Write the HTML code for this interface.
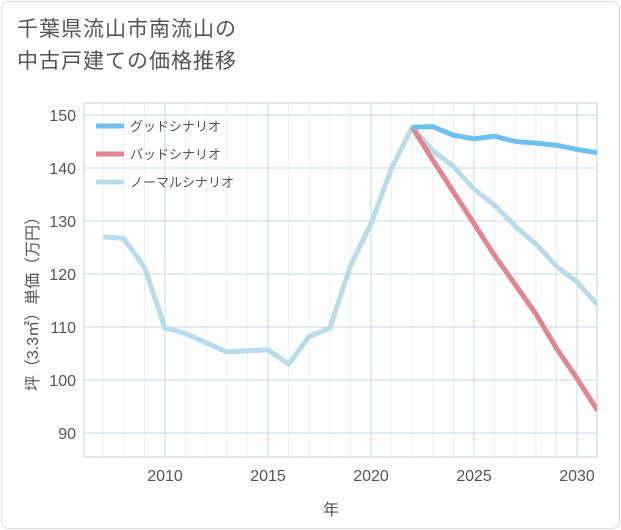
<!DOCTYPE html>
<html><head><meta charset="utf-8"><style>
body{margin:0;background:#fff;font-family:"Liberation Sans","Noto Sans CJK JP",sans-serif;}
#wrap{position:relative;width:621px;height:530px;}
#frame{position:absolute;left:1px;top:1px;width:617px;height:526px;border:1px solid #ddd;border-radius:8px;}
#title{position:absolute;left:17px;top:14px;font-size:21px;line-height:32px;color:#555;letter-spacing:1px;}
svg{position:absolute;left:0;top:0;}
</style></head><body>
<div id="wrap">
<div id="frame"></div>
<div id="title">千葉県流山市南流山の<br>中古戸建ての価格推移</div>
<svg id="chart" width="621" height="530"></svg>
</div>
<script>
const years=[2007,2008,2009,2010,2011,2012,2013,2014,2015,2016,2017,2018,2019,2020,2021,2022,2023,2024,2025,2026,2027,2028,2029,2030,2031];
const normalVals=[127,126.7,121.3,109.8,108.8,107,105.3,105.5,105.7,103,108.2,109.8,121.5,129.5,140,147.7,143.3,140.3,136,133,129,125.7,121.5,118.5,114.2];
const goodYears=[2022,2023,2024,2025,2026,2027,2028,2029,2030,2031];
const goodVals=[147.7,147.8,146.2,145.5,146,145,144.7,144.3,143.5,142.9];
const badVals=[147.7,141.5,135.5,129.5,123.5,118,112.5,106,100.3,94.2];
const xTicks=[2010,2015,2020,2025,2030];
const yTicks=[90,100,110,120,130,140,150];
const legendLabels=["グッドシナリオ","バッドシナリオ","ノーマルシナリオ"];
const legendColors=["#6ec0f0","#e0868f","#b9dcea"];

const L=84,R=597,T=103,B=457;
const x=v=>165+(v-2010)*20.6;
const y=v=>115+(150-v)*5.3;
const svg=document.getElementById('chart');
const NS='http://www.w3.org/2000/svg';
function mk(tag,attrs,parent){const e=document.createElementNS(NS,tag);for(const k in attrs)e.setAttribute(k,attrs[k]);(parent||svg).appendChild(e);return e;}

const plot=mk('rect',{x:L,y:T,width:R-L,height:B-T,fill:'none',stroke:'#ccc'});


for(let yr=2007;yr<=2031;yr++){
  const g=mk('line',{x1:x(yr),x2:x(yr),y1:T,y2:B,stroke:xTicks.includes(yr)?'#c9d9e6':'#e8eff5','stroke-width':1});
  
  
}
yTicks.forEach(v=>{
  const g=mk('line',{x1:L,x2:R,y1:y(v),y2:y(v),stroke:'#c9d9e6'});
  
  
  const t=mk('text',{x:76,y:y(v)+6,'text-anchor':'end','font-size':16,fill:'#555'});
  t.textContent=v;
  
  
});
xTicks.forEach(v=>{
  const t=mk('text',{x:x(v),y:481,'text-anchor':'middle','font-size':16,fill:'#555'});
  t.textContent=v;
  
  
});
const xt=mk('text',{x:331,y:515,'text-anchor':'middle','font-size':16,fill:'#555'});
xt.textContent='年';


const yt=mk('text',{x:0,y:0,'text-anchor':'middle','font-size':16,fill:'#555',transform:'translate(38,300) rotate(-90)'});
yt.textContent='坪（3.3㎡）単価（万円）';



const clip=mk('clipPath',{id:'cp'});mk('rect',{x:L,y:T,width:R-L,height:B-T},clip);
function line(xs,vs,color,name){
  const p=mk('polyline',{points:xs.map((yr,i)=>x(yr)+','+y(vs[i])).join(' '),fill:'none',stroke:color,'stroke-width':5,'stroke-linejoin':'round','clip-path':'url(#cp)'});
  
  
}
line(years,normalVals,legendColors[2],'normal-scenario-line');
line(goodYears,badVals,legendColors[1],'bad-scenario-line');
line(goodYears,goodVals,legendColors[0],'good-scenario-line');

legendLabels.forEach((lab,i)=>{
  const ly=126+i*28;
  const s=mk('line',{x1:96,x2:124,y1:ly,y2:ly,stroke:legendColors[i],'stroke-width':5});
  
  
  const t=mk('text',{x:130,y:ly+5,'font-size':13,fill:'#555'});
  t.textContent=lab;
  
  
});
</script>
</body></html>
